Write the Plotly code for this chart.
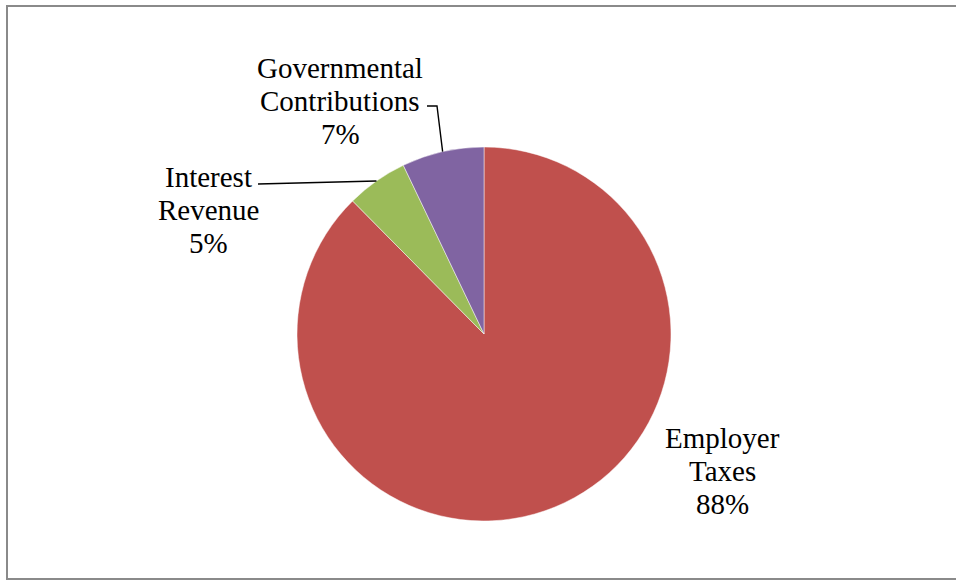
import math
import plotly.graph_objects as go

# ---- data ----
categories = ["Employer Taxes", "Interest Revenue", "Governmental Contributions"]
values = [87.6, 5.3, 7.1]
colors = ["#C0504D", "#9BBB59", "#8064A2"]

W, H = 956, 581
CX, CY, R = 484, 334, 187  # pie geometry in px


def px(x, y):
    return x / W, 1 - y / H


fig = go.Figure()
fig.add_trace(go.Pie(
    labels=categories,
    values=values,
    sort=False,
    direction="clockwise",
    rotation=0,
    marker=dict(colors=colors, line=dict(color="rgba(255,255,255,0.6)", width=0.8)),
    textinfo="none",
    hoverinfo="label+percent",
    showlegend=False,
    domain=dict(x=[(CX - R) / W, (CX + R) / W], y=[1 - (CY + R) / H, 1 - (CY - R) / H]),
))

total = sum(values)
# label layout (style): center x, first-line y, and leader path (elbow points) in px
label_pos = {
    "Employer Taxes": dict(x=722, y=438, leader=None),
    "Interest Revenue": dict(x=208, y=177, leader=[(258, 184)]),
    "Governmental Contributions": dict(x=340, y=68, leader=[(437, 106), (427, 106)]),
}
LINE_GAP = 33

annotations = []
shapes = []
cum = 0.0
for name, v in zip(categories, values):
    mid = (cum + v / 2) / total * 2 * math.pi
    cum += v
    sx = CX + R * math.sin(-mid) * -1
    sy = CY - R * math.cos(mid)
    lp = label_pos[name]
    lines = name.split(" ") + [f"{round(v / total * 100)}%"]
    for i, t in enumerate(lines):
        ax, ay = px(lp["x"], lp["y"] + i * LINE_GAP)
        annotations.append(dict(
            x=ax, y=ay, xref="paper", yref="paper", text=t, showarrow=False,
            xanchor="center", yanchor="middle",
            font=dict(family="Liberation Serif, Times New Roman, serif", size=29, color="#000000"),
        ))
    if lp["leader"]:
        pts = [(sx, sy)] + lp["leader"]
        path = "M " + " L ".join(f"{px(a, b)[0]},{px(a, b)[1]}" for a, b in pts)
        shapes.append(dict(type="path", xref="paper", yref="paper", path=path,
                           line=dict(color="#000000", width=1.4)))

# outer border
bx0, by0 = px(7, 6)
bx1, by1 = px(970, 579)
shapes.append(dict(type="rect", xref="paper", yref="paper", x0=bx0, y0=by1, x1=bx1, y1=by0,
                   line=dict(color="#8a8a8a", width=2), layer="below"))

fig.update_layout(
    width=W, height=H,
    margin=dict(l=0, r=0, t=0, b=0),
    paper_bgcolor="white", plot_bgcolor="white",
    annotations=annotations,
    shapes=shapes,
)

fig.write_html("out.html")
